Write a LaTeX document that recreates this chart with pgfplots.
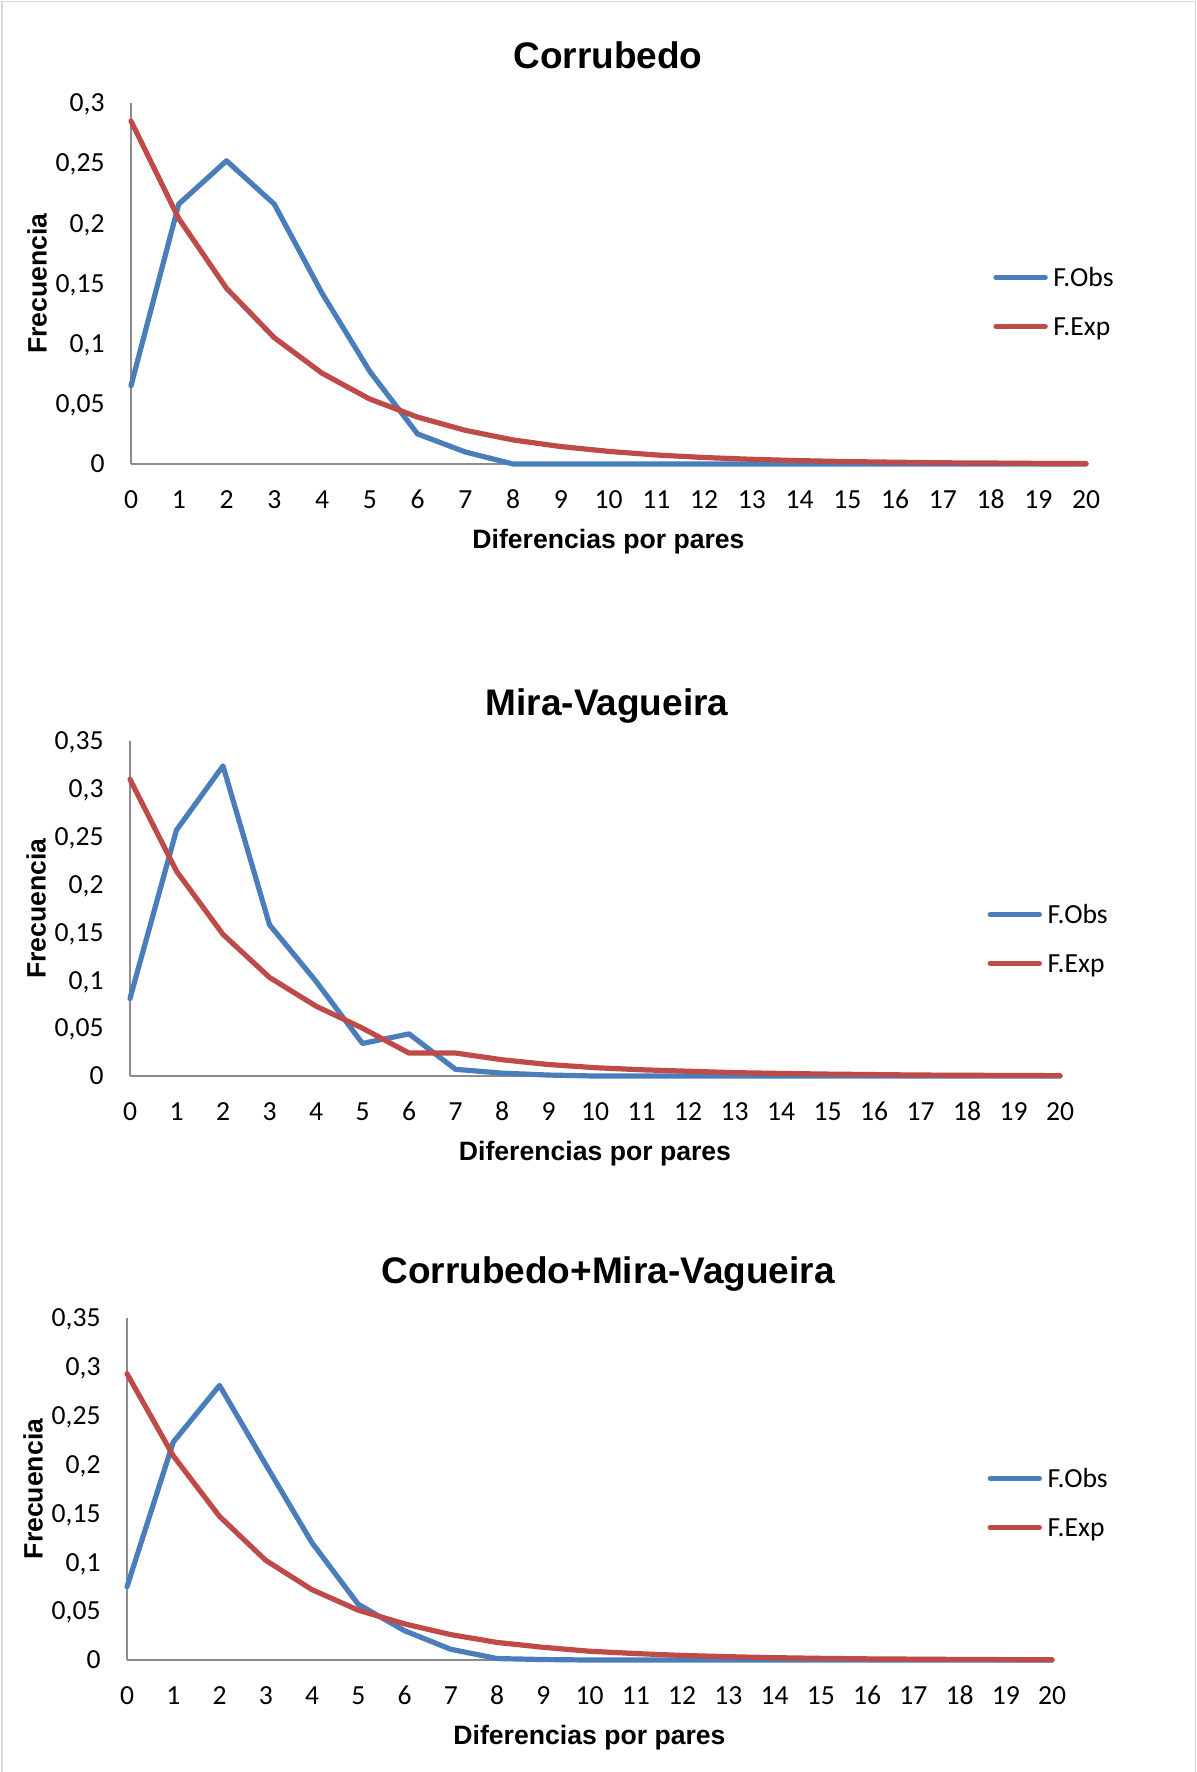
\documentclass[border=0pt]{standalone}
\usepackage{fontspec}
\setmainfont{Carlito}
\newfontfamily\arial{Liberation Sans}
\usepackage{pgfplots}
\pgfplotsset{compat=1.18}
\definecolor{obs}{HTML}{4A7EBB}
\definecolor{exp}{HTML}{BE4B48}
\definecolor{axisgray}{HTML}{8C8C8C}
\definecolor{framegray}{HTML}{D9D9D9}
\pgfplotsset{
  excel/.style={
    scale only axis, clip=false,
    xmin=0, xmax=20, ymin=0,
    axis x line*=bottom, axis y line*=left,
    axis line style={draw=axisgray, line width=0.75pt},
    major tick length=0pt,
    xtick={0,...,20},
    /pgf/number format/assume math mode=true,
    tick label style={font=\fontsize{13.8}{16}\selectfont, inner sep=0pt},
    xticklabel style={anchor=base, yshift=-22.3pt},
    yticklabel style={anchor=base east, xshift=-13pt, yshift=-4.4pt},
    xlabel={Diferencias por pares}, ylabel={Frecuencia},
    label style={font=\arial\bfseries\fontsize{13.3}{15}\selectfont, inner sep=0pt},
    xlabel style={at={([yshift=-42pt]axis description cs:0.5,0)}, anchor=base},
    ylabel style={at={([xshift=-47pt]axis description cs:0,0.5)}, anchor=center},
    every axis plot/.append style={line width=2.6pt, line join=round, line cap=round},
    legend cell align=left,
    legend style={draw=none, fill=none, inner sep=0pt, row sep=15pt, column sep=2.8pt,
      font=\fontsize{13.8}{16}\selectfont, anchor=north west,
      nodes={inner sep=0pt, text depth=0pt, text height=9.5pt}},
    legend image code/.code={\draw[#1] (0pt,0pt) -- (24.6pt,0pt);},
  }
}
\begin{document}
\begin{tikzpicture}
\useasboundingbox (0,0) rectangle (598.5pt,-886pt);
\draw[framegray, line width=0.7pt] (1pt,-900pt) -- (1pt,-0.85pt) -- (597.6pt,-0.85pt) -- (597.6pt,-900pt);

% Chart 1
\begin{axis}[excel, at={(65.5pt,-232pt)}, anchor=south west,
  width=477.5pt, height=180.5pt, ymax=0.3,
  ytick={0,0.05,0.1,0.15,0.2,0.25,0.3},
  yticklabels={0,{0,05},{0,1},{0,15},{0,2},{0,25},{0,3}},
  legend style={at={([xshift=431pt,yshift=98.25pt]axis description cs:0,0)}}]
\addplot[color=obs] coordinates {(0,0.065) (1,0.216) (2,0.252) (3,0.216) (4,0.142) (5,0.077) (6,0.025) (7,0.010) (8,0) (9,0) (10,0) (11,0) (12,0) (13,0) (14,0) (15,0) (16,0) (17,0) (18,0) (19,0) (20,0)};
\addplot[color=exp] coordinates {(0,0.285) (1,0.204) (2,0.146) (3,0.105) (4,0.0755) (5,0.054) (6,0.039) (7,0.028) (8,0.020) (9,0.0145) (10,0.0105) (11,0.0075) (12,0.0054) (13,0.0039) (14,0.0028) (15,0.002) (16,0.0015) (17,0.001) (18,0.0008) (19,0.0005) (20,0.0004)};
\legend{F.Obs,F.Exp}
\end{axis}

% Chart 2
\begin{axis}[excel, at={(65pt,-538pt)}, anchor=south west,
  width=465pt, height=167.5pt, ymax=0.35,
  ytick={0,0.05,0.1,0.15,0.2,0.25,0.3,0.35},
  yticklabels={0,{0,05},{0,1},{0,15},{0,2},{0,25},{0,3},{0,35}},
  legend style={at={([xshift=428.6pt,yshift=85.75pt]axis description cs:0,0)}}]
\addplot[color=obs] coordinates {(0,0.081) (1,0.257) (2,0.324) (3,0.158) (4,0.099) (5,0.034) (6,0.044) (7,0.007) (8,0.003) (9,0.001) (10,0) (11,0) (12,0) (13,0) (14,0) (15,0) (16,0) (17,0) (18,0) (19,0) (20,0)};
\addplot[color=exp] coordinates {(0,0.310) (1,0.214) (2,0.148) (3,0.103) (4,0.073) (5,0.050) (6,0.024) (7,0.024) (8,0.017) (9,0.012) (10,0.0087) (11,0.0065) (12,0.005) (13,0.0035) (14,0.0027) (15,0.002) (16,0.0015) (17,0.001) (18,0.0008) (19,0.0005) (20,0.0004)};
\legend{F.Obs,F.Exp}
\end{axis}

% Chart 3
\begin{axis}[excel, at={(63.5pt,-830pt)}, anchor=south west,
  width=462.5pt, height=171pt, ymax=0.35,
  ytick={0,0.05,0.1,0.15,0.2,0.25,0.3,0.35},
  yticklabels={0,{0,05},{0,1},{0,15},{0,2},{0,25},{0,3},{0,35}},
  legend style={at={([xshift=430.1pt,yshift=95.75pt]axis description cs:0,0)}}]
\addplot[color=obs] coordinates {(0,0.075) (1,0.223) (2,0.281) (3,0.200) (4,0.120) (5,0.057) (6,0.030) (7,0.011) (8,0.0015) (9,0.0005) (10,0) (11,0) (12,0) (13,0) (14,0) (15,0) (16,0) (17,0) (18,0) (19,0) (20,0)};
\addplot[color=exp] coordinates {(0,0.293) (1,0.209) (2,0.147) (3,0.102) (4,0.072) (5,0.051) (6,0.037) (7,0.026) (8,0.018) (9,0.013) (10,0.009) (11,0.0066) (12,0.0047) (13,0.0034) (14,0.0024) (15,0.0017) (16,0.0012) (17,0.0009) (18,0.0006) (19,0.0004) (20,0.0003)};
\legend{F.Obs,F.Exp}
\end{axis}

\begin{scope}[every node/.style={anchor=base, inner sep=0pt, font=\arial\bfseries\fontsize{18.5}{22}\selectfont}]
\node at (304pt,-34pt) {Corrubedo};
\node at (303.5pt,-357.5pt) {Mira-Vagueira};
\node at (304pt,-641.5pt) {Corrubedo+Mira-Vagueira};
\end{scope}
\end{tikzpicture}
\end{document}
